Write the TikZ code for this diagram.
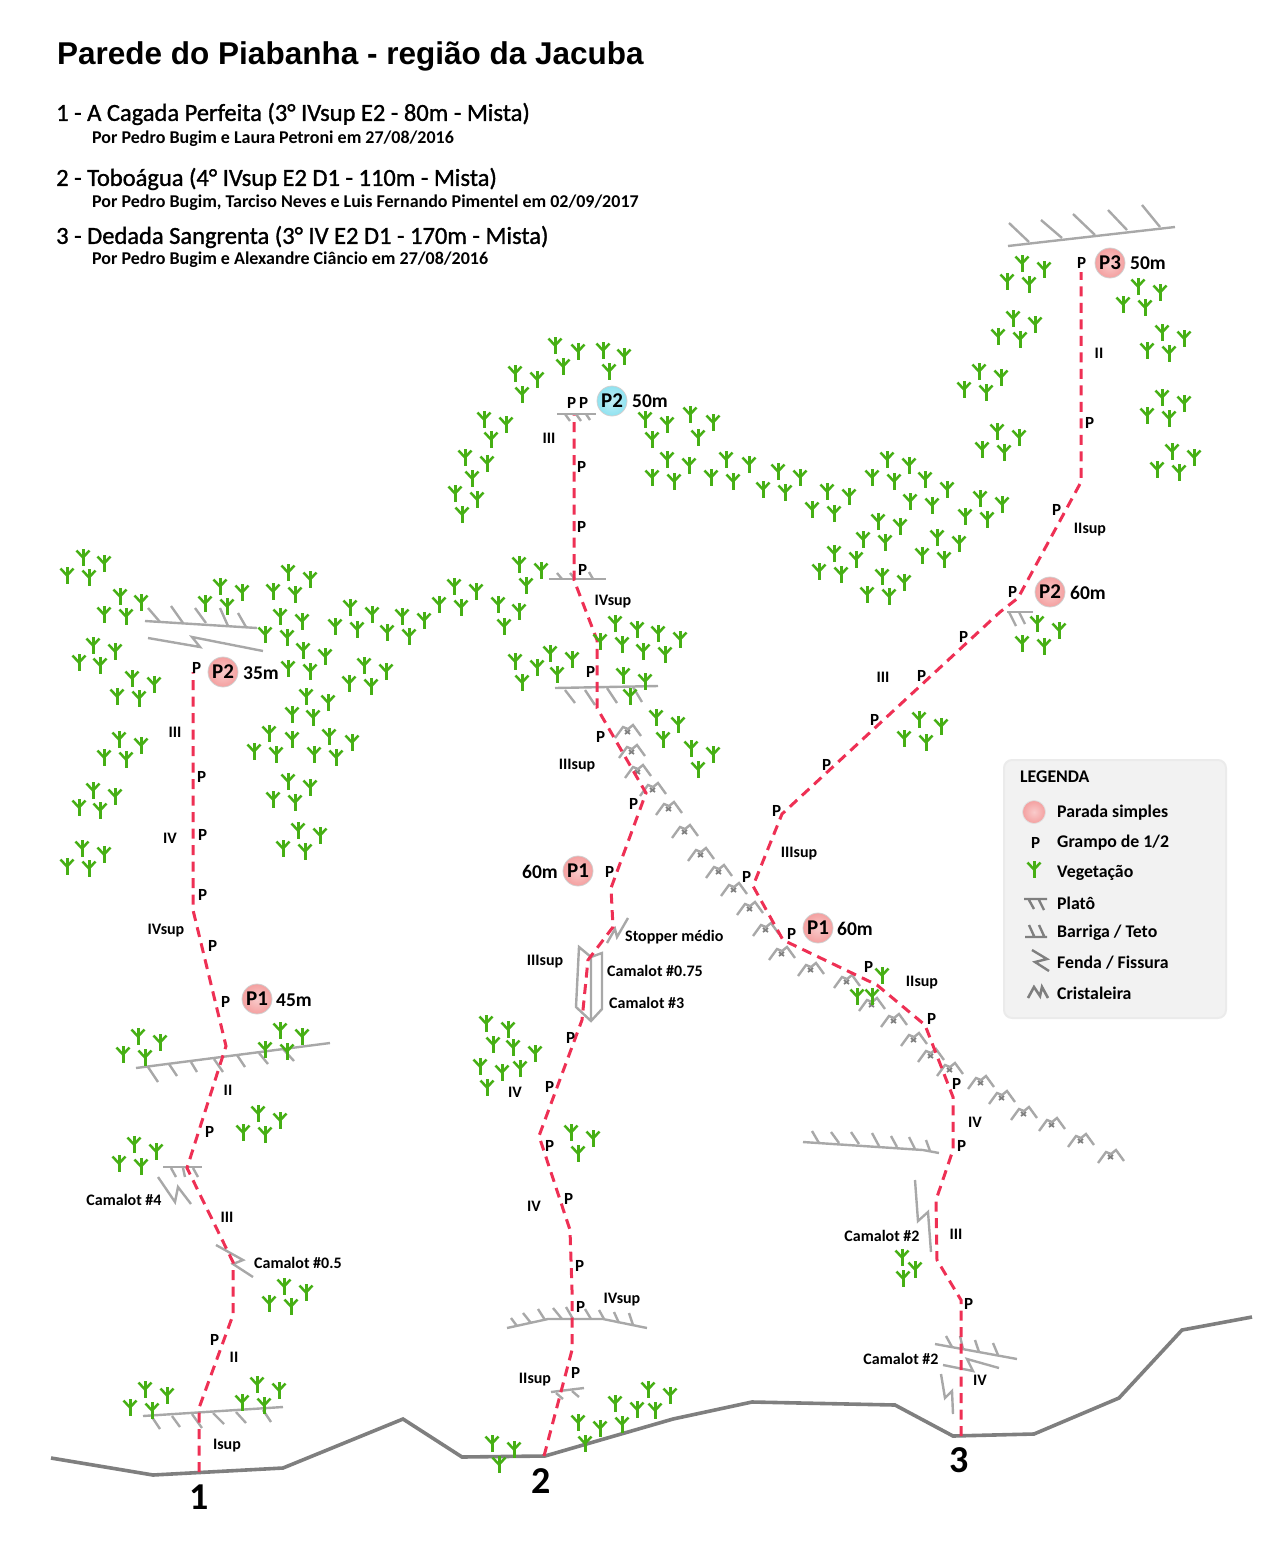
\documentclass[tikz,border=0pt]{standalone}
\usepackage{fontspec}
\setmainfont{Carlito}
\newfontfamily\arial{Liberation Sans}
\newfontfamily\medio[FakeBold=1.2]{Carlito}
\definecolor{rota}{HTML}{EE3054}
\definecolor{rocha}{HTML}{A8A8A8}
\definecolor{solo}{HTML}{7F7F7F}
\definecolor{verde}{HTML}{46AF14}
\definecolor{rosa}{HTML}{F4A0A0}
\definecolor{ciano}{HTML}{8FE2F0}
\tikzset{
  grampo/.style={font=\bfseries\fontsize{17}{17}\selectfont,inner sep=0pt,yshift=-1pt,xshift=.7pt},
  grau/.style={font=\bfseries\fontsize{16}{16}\selectfont,inner sep=0pt,yshift=-1pt},
  legenda/.style={font=\bfseries\fontsize{17.8}{18}\selectfont,inner sep=0pt,anchor=west,yshift=-1pt},
  metros/.style={font=\bfseries\fontsize{19.5}{20}\selectfont,inner sep=0pt,yshift=-.5pt},
  numero/.style={font=\bfseries\fontsize{38}{38}\selectfont,inner sep=0pt},
  via/.style={font=\medio\fontsize{24.5}{25}\selectfont,inner sep=0pt,anchor=west,text=black,yshift=-1pt},
  autores/.style={font=\bfseries\fontsize{18}{18}\selectfont,inner sep=0pt,anchor=west,yshift=-1.5pt},
  parada/.style={circle,minimum size=30pt,inner sep=0pt,inner color=#1!55,outer color=#1,draw=black!18,line width=.8pt,
    font=\bfseries\fontsize{21}{21}\selectfont},
  parada/.default=rosa,
  linharocha/.style={draw=rocha,line width=2.4pt},
  linhavia/.style={draw=rota,line width=3pt,dash pattern=on 10pt off 6.5pt},
  planta/.pic={
    \draw[verde,line width=3pt] (0,-9) -- (0,8);
    \draw[verde,line width=2.5pt] (-6.5,-7.5) -- (0,-.5) -- (6.5,-7.5);
  },
  cristal/.pic={
    \draw[rocha,line width=2.4pt] (-13,8) -- (-5,-3) -- (0,-1) -- (5,-5) -- (13,6);
    \draw[gray,line width=1.8pt] (-3,0) -- (2,4) (2,0) -- (-3,4);
  },
}
\newcommand{\riscos}[1]{\foreach \xa/\ya/\xb/\yb in {#1} \draw[linharocha] (\xa,\ya) -- (\xb,\yb);}
\begin{document}
\begin{tikzpicture}[x=1pt,y=-1pt]
\useasboundingbox (0,0) rectangle (1276,1559);
\node[inner sep=0pt,anchor=west,font=\arial\bfseries\fontsize{31.5}{32}\selectfont] (titulo) at (57,56) {Parede do Piabanha - região da Jacuba};
\node[via] (via1) at (56,113) {1 - A Cagada Perfeita (3° IVsup E2 - 80m - Mista)};
\node[autores] (aut1) at (92,137) {Por Pedro Bugim e Laura Petroni em 27/08/2016};
\node[via] (via2) at (56,178) {2 - Toboágua (4° IVsup E2 D1 - 110m - Mista)};
\node[autores] (aut2) at (92,201) {Por Pedro Bugim, Tarciso Neves e Luis Fernando Pimentel em 02/09/2017};
\node[via] (via3) at (56,236) {3 - Dedada Sangrenta (3° IV E2 D1 - 170m - Mista)};
\node[autores] (aut3) at (92,258) {Por Pedro Bugim e Alexandre Ciâncio em 27/08/2016};
% solo
\draw[solo,line width=3.6pt] (51,1458) -- (153,1475) -- (283,1468) -- (403,1419) -- (462,1457) -- (545,1456) -- (673,1419) -- (752,1402) -- (895,1405) -- (953,1436) -- (1034,1434) -- (1119,1398) -- (1182,1330) -- (1252,1317);
% platos e tetos
\draw[linharocha] (145,621) -- (257,628);
\riscos{148/608/160/622,171/606/183/623,195/608/206/623,220/608/228/626,238/613/246/627}
\draw[linharocha] (148,638) -- (200,647) -- (192,637) -- (263,651);
\draw[linharocha] (1008,246) -- (1175,227);
\riscos{1009/223/1029/242,1041/220/1062/238,1073/214/1095/235,1108/210/1127/230,1142/205/1160/227}
\draw[linharocha] (557,414) -- (596,414);
\riscos{565/414/570/421,576/414/581/421,586/414/590/420}
\draw[linharocha] (549,579) -- (606,579);
\riscos{557/573/562/579,570/573/575/579,589/572/593/579}
\draw[linharocha] (555,688) -- (658,686);
\riscos{565/690/575/703,585/690/595/705,607/688/617/703,633/687/642/702}
\draw[linharocha] (1007,612) -- (1033,612);
\riscos{1009/612/1016/626,1019/612/1025/624}
\draw[linharocha] (136,1068) -- (330,1043);
\riscos{148/1067/158/1082,169/1064/177/1076,191/1062/197/1072,214/1059/223/1072,237/1055/245/1067,259/1053/268/1064,283/1049/294/1061}
\draw[linharocha] (163,1167) -- (202,1167);
\riscos{171/1168/176/1177,183/1168/185/1177,193/1168/198/1177}
\draw[linharocha] (158,1177) -- (175,1202) -- (178,1187) -- (191,1204);
\draw[linharocha] (216,1245) -- (243,1260) -- (233,1264) -- (253,1277);
\draw[linharocha] (143,1416) -- (283,1407);
\riscos{152/1417/160/1429,172/1416/180/1427,192/1414/202/1428,213/1413/224/1424,236/1412/246/1423,263/1410/271/1422}
\draw[linharocha] (507,1328) -- (548,1319) -- (603,1319) -- (647,1328);
\riscos{511/1318/517/1326,523/1313/531/1323,538/1309/545/1320,553/1308/562/1319,566/1307/573/1319,585/1309/591/1319,599/1310/604/1319,614/1312/619/1323,629/1313/633/1325}
\draw[linharocha] (551,1392) -- (584,1388);
\riscos{556/1393/563/1399,572/1391/579/1397}
\draw[linharocha] (803,1142) -- (923,1150) -- (939,1153);
\riscos{812/1131/819/1143,831/1132/839/1143,851/1132/859/1144,872/1133/879/1146,891/1136/897/1147,909/1137/915/1149,926/1140/930/1151}
\draw[linharocha] (915,1180) -- (918,1221) -- (928,1212) -- (931,1252);
\draw[linharocha] (935,1344) -- (1017,1359);
\riscos{946/1336/952/1347,960/1336/963/1349,975/1340/979/1352,993/1343/998/1355}
\draw[linharocha] (943,1365) -- (973,1371) -- (967,1359) -- (999,1368);
\draw[linharocha] (941,1374) -- (945,1398) -- (952,1391) -- (953,1414);
\draw[linharocha] (607,943) -- (615,929) -- (617,937) -- (628,918);
% camalots
\draw[linharocha] (591,957) -- (579,947) -- (576,1007) -- (591,1021) -- (602,1009) -- (602,953) -- (591,957) -- (591,1021);
% cristaleiras
\foreach \x/\y in {628/730,632/750,638/770,653/788,669/807,685/830,701/853,719/870,734/888,750/907,766/928,782/952,811/968,847/980,872/1003,894/1019,914/1038,931/1054,950/1068,981/1081,1002/1096,1024/1112,1052/1123,1081/1139,1111/1155}
  \pic at (\x,\y) {cristal};
% vias
\draw[linhavia] (199,1472) -- (199,1408) -- (233,1315) -- (233,1262) -- (187,1168) -- (226,1046) -- (193,910) -- (193,672);
\draw[linhavia] (544,1456) -- (572,1350) -- (572,1290) -- (570,1230) -- (539,1136) -- (582,1020) -- (588,960) -- (613,927) -- (611,888) -- (646,793) -- (597,708) -- (597,640) -- (574,580) -- (574,415);
\draw[linhavia] (961,1436) -- (961,1300) -- (937,1260) -- (936,1200) -- (953,1150) -- (953,1097) -- (925,1025) -- (877,985) -- (783,940) -- (753,886) -- (782,814) -- (1000,612) -- (1018,598) -- (1081,482) -- (1081,272);
% vegetacao
\foreach \x/\y in {
67/576,83/558,89/578,104/564, 104/615,120/597,126/617,141/603, 79/663,93/646,100/666,115/652,
117/697,132/679,139/699,154/685, 104/758,119/740,126/760,141/746, 79/808,93/791,100/811,115/797,
67/867,82/849,89/869,104/855, 205/604,220/587,227/607,242/593, 273/592,288/573,295/595,310/580,
265/635,280/617,287/638,302/622, 288/669,303/651,310/672,325/657, 335/627,350/608,357/630,372/615,
387/633,402/617,409/637,424/621, 349/684,364/666,371/687,386/672, 292/715,306/697,313/718,328/703,
254/752,269/734,276/755,292/740, 314/755,329/737,336/758,352/743, 273/800,288/782,295/803,310/788,
283/849,298/831,305/852,320/836, 439/605,454/587,461/608,476/592, 498/605,519/612,504/627,
519/565,541/571,526/586, 555/346,578/352,563/367, 603/351,624/357,609/372, 515/374,537/380,522/395,
484/420,506/425,491/440, 465/458,487/464,472/479, 455/494,477/500,462/515,
645/420,667/425,652/440, 690/415,713/423,698/438, 667/460,689/466,652/478,674/482,
726/460,749/465,711/478,733/482, 778/472,800/478,763/490,785/493, 827/492,849/497,812/510,834/514,
887/460,909/466,872/478,894/482, 925/480,947/490,910/502,932/506, 980/499,1002/505,965/517,987/520,
878/522,900/527,863/540,885/543, 937/538,959/544,922/556,944/560, 834/554,856/560,819/572,841/575,
882/577,904/583,867/595,889/597,
1022/264,1044/270,1007/282,1029/285, 1138/287,1160/293,1123/305,1145/308, 1013/319,1035/325,998/337,1020/340,
1162/333,1184/339,1147/351,1169/354, 979/372,1001/378,964/390,986/393, 1162/398,1184/404,1147/416,1169/419,
997/432,1019/438,982/450,1004/453, 1172/452,1194/458,1157/470,1179/473,
1037/624,1059/631,1022/644,1044/647, 919/720,941/727,904/739,926/743,
615/624,637/630,658/634,680/640,600/642,622/645,643/652,665/655,
515/662,550/654,572/660,537/668,557/675,522/683, 623/676,645/682,630/697,
656/718,678/725,663/740, 691/749,713/755,698/770,
123/1055,138/1037,145/1058,160/1043, 265/1050,280/1031,287/1052,302/1037,
243/1133,258/1114,265/1135,280/1121, 119/1164,134/1145,141/1167,156/1152,
269/1304,284/1287,291/1307,306/1293, 145/1390,167/1396,130/1408,152/1411, 257/1385,279/1391,242/1403,264/1406,
486/1024,508/1030,493/1045,513/1048,535/1054,480/1067,502/1073,520/1069,487/1088,
571/1133,593/1139,578/1154, 492/1444,514/1450,499/1465, 578/1423,600/1429,585/1444,
615/1404,622/1425,637/1410,648/1390,670/1396,655/1411,
882/976,857/997,872/997, 902/1258,915/1270,903/1279}
  \pic at (\x,\y) {planta};
% grampos
\foreach \x/\y [count=\i] in {196/667,201/776,202/834,202/894,212/945,225/1001,209/1131,214/1339,
571/402,583/402,581/466,581/526,582/569,590/671,600/736,633/803,609/871,570/1037,549/1086,549/1145,568/1198,579/1265,580/1306,575/1372,
1081/262,1089/422,1056/509,1012/591,963/636,921/675,874/719,826/764,776/810,746/876,791/933,868/966,931/1018,956/1083,961/1145,968/1303}
  \node[grampo] (g\i) at (\x,\y) {P};
% graus
\foreach \x/\y/\t [count=\i] in {227/1445/Isup,234/1356/II,227/1216/III,228/1089/II,166/930/IVsup,170/837/IV,175/731/III,
549/437/III,613/601/IVsup,577/765/IIIsup,545/961/IIIsup,515/1091/IV,534/1205/IV,622/1299/IVsup,535/1379/IIsup,
1099/352/II,1090/529/IIsup,883/676/III,799/853/IIIsup,922/982/IIsup,975/1121/IV,956/1233/III,980/1379/IV}
  \node[grau] (r\i) at (\x,\y) {\t};
% protecoes
\node[grau,anchor=west] (stopper) at (625,936) {Stopper médio};
\node[grau,anchor=west] (cam075) at (607,970) {Camalot \#0.75};
\node[grau,anchor=west] (cam3) at (609,1002) {Camalot \#3};
\node[grau] (cam4) at (124,1199) {Camalot \#4};
\node[grau,anchor=west] (cam05) at (254,1262) {Camalot \#0.5};
\node[grau] (cam2a) at (882,1235) {Camalot \#2};
\node[grau] (cam2b) at (901,1358) {Camalot \#2};
% paradas
\node[parada] (pa) at (223,672) {P2};
\node[metros] (ma) at (261,673) {35m};
\node[parada=ciano] (pb) at (612,401) {P2};
\node[metros] (mb) at (650,401) {50m};
\node[parada] (pc) at (1110,263) {P3};
\node[metros] (mc) at (1148,263) {50m};
\node[parada] (pd) at (1050,592) {P2};
\node[metros] (md) at (1088,592) {60m};
\node[parada] (pe) at (578,871) {P1};
\node[metros] (me) at (540,871) {60m};
\node[parada] (pf) at (818,928) {P1};
\node[metros] (mf) at (855,928) {60m};
\node[parada] (pg) at (257,999) {P1};
\node[metros] (mg) at (294,1000) {45m};
% numeros
\node[numero] (n1) at (199,1497) {1};
\node[numero] (n2) at (541,1481) {2};
\node[numero] (n3) at (959,1460) {3};
% legenda
\draw[fill=black!5,draw=black!8,line width=2pt,rounded corners=8pt] (1004,760) rectangle (1226,1018);
\node[legenda] (leg) at (1020,776) {LEGENDA};
\node[parada,minimum size=23pt,draw=black!12] (lp) at (1034,812) {};
\node[legenda] (l1) at (1057,812) {Parada simples};
\node[grampo] (lg) at (1035,842) {P};
\node[legenda] (l2) at (1057,842) {Grampo de 1/2};
\pic at (1034,870) {planta};
\node[legenda] (l3) at (1057,872) {Vegetação};
\draw[solo,line width=2.4pt] (1024,899) -- (1047,899) (1029,900) -- (1034,909) (1039,900) -- (1044,910);
\node[legenda] (l4) at (1057,902) {Platô};
\draw[solo,line width=2.4pt] (1025,937) -- (1047,937) (1029,925) -- (1034,936) (1039,925) -- (1044,936);
\node[legenda] (l5) at (1057,932) {Barriga / Teto};
\draw[solo,line width=2.4pt] (1032,950) -- (1047,959) -- (1035,962) -- (1049,971);
\node[legenda] (l6) at (1057,962) {Fenda / Fissura};
\draw[solo,line width=2.6pt] (1028,998) -- (1034,987) -- (1040,996) -- (1042,987) -- (1048,998);
\node[legenda] (l7) at (1057,992) {Cristaleira};
\end{tikzpicture}
\end{document}
